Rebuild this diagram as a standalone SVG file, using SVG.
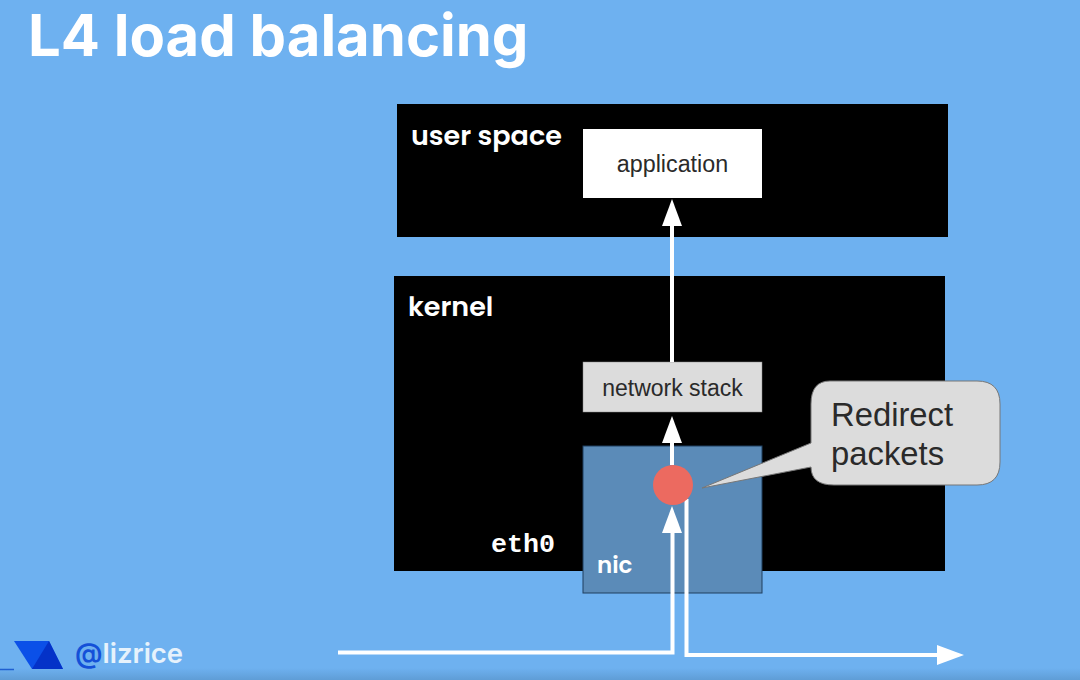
<svg xmlns="http://www.w3.org/2000/svg" width="1080" height="680" viewBox="0 0 1080 680">
<defs>
<linearGradient id="bot" x1="0" y1="0" x2="0" y2="1"><stop offset="0" stop-color="#6eb1f0"/><stop offset="1" stop-color="#5f9dd6"/></linearGradient>
</defs>
<style>
.box{fill:#000}
.title{font-family:Inter,"Liberation Sans",sans-serif;font-weight:700;fill:#fff}
.head{font-family:Poppins,Inter,"Liberation Sans",sans-serif;font-weight:600;fill:#fff}
.lab{font-family:"Liberation Sans",Arial,sans-serif;fill:#2a2a2a}
.wire{fill:none;stroke:#fff;stroke-width:4}
.ah{fill:#fff}
</style>
<rect width="1080" height="680" fill="#6eb1f0"/>
<rect y="668" width="1080" height="12" fill="url(#bot)"/>
<text x="28" y="55.500" class="title" font-size="58">L4 load balancing</text>

<g id="user-space">
<rect class="box" x="397" y="104" width="551" height="133"/>
<text x="411" y="145" class="head" font-size="27">user space</text>
</g>
<g id="application">
<rect x="583" y="129" width="179" height="69" fill="#fff"/>
<text x="672.500" y="172" text-anchor="middle" class="lab" font-size="23.300">application</text>
</g>
<g id="kernel">
<rect class="box" x="394" y="276" width="551" height="295"/>
<text x="408" y="316" class="head" font-size="27">kernel</text>
<text x="491" y="551.500" font-family="'Liberation Mono','DejaVu Sans Mono',monospace" font-weight="700" font-size="26.700" fill="#fff">eth0</text>
</g>
<g id="network-stack">
<rect x="583" y="362" width="179" height="50" fill="#dcdcdc" stroke="#888" stroke-width="0.500"/>
<text x="672.500" y="396" text-anchor="middle" class="lab" font-size="23">network stack</text>
</g>
<g id="nic">
<rect x="583" y="446" width="179" height="147" fill="#5b8bb8" stroke="#1f3f5f" stroke-width="1"/>
<text x="597" y="573" class="head" font-size="23">nic</text>
</g>

<g id="connectors">
<path class="wire" d="M672,362V225"/>
<path class="ah" d="M672,199L682,226H662Z"/>
<path class="wire" d="M672,465V440"/>
<path class="ah" d="M672,416L682,443H662Z"/>
<path class="wire" d="M338,652.500H672.500V530"/>
<path class="ah" d="M672,506L682,533H662Z"/>
<path class="wire" d="M686.500,499V655H940"/>
<path class="ah" d="M964,655L937,645V665Z"/>
</g>

<g id="redirect-dot">
<circle cx="673" cy="485" r="20" fill="#ec6a60"/>
</g>
<g id="callout">
<path d="M830,381H977Q1000,381 1000,404V462Q1000,485 977,485H834Q811,485 811,467L702,488L811,443V404Q811,381 830,381Z" fill="#dcdcdc" stroke="#777" stroke-width="1"/>
<text x="831" y="426" class="lab" font-size="32.800">Redirect</text>
<text x="831" y="465" class="lab" font-size="32.800">packets</text>
</g>

<g id="logo">
<path d="M0,669.500H14" stroke="#1f5fd0" stroke-width="1.500"/>
<path d="M14,641H49L63,669H32Z" fill="#0b50e8"/>
<path d="M49,641L63,669H32Z" fill="#0432c8"/>
<text x="75" y="663" font-family="Inter,'Liberation Sans',sans-serif" font-weight="600" font-size="27.500" fill="#1450d8">@<tspan fill="#e6f2fc">lizrice</tspan></text>
</g>
</svg>
